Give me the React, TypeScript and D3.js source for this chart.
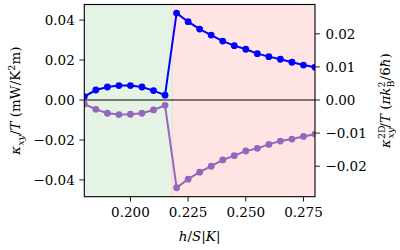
import React, { useEffect, useRef } from 'react';
import * as d3 from 'd3';

// field values h/S|K|
const fieldLow = [0.18, 0.185, 0.19, 0.195, 0.2, 0.205, 0.21, 0.215];
const fieldHigh = [0.22, 0.225, 0.23, 0.235, 0.24, 0.245, 0.25, 0.255, 0.26, 0.265, 0.27, 0.275, 0.28];

// kappa_xy / T in mW/K^2 m (left axis)
const kappaLow = [0.0017, 0.005, 0.0065, 0.0072, 0.0072, 0.0065, 0.0047, 0.0024];
const kappaHigh = [0.0435, 0.0392, 0.0355, 0.0325, 0.0295, 0.0272, 0.0254, 0.0232, 0.0217, 0.0204, 0.0189, 0.0175, 0.0164];

// kappa_xy^2D / T in pi k_B^2 / 6hbar (right axis)
const kappa2dLow = [-0.0012, -0.0028, -0.004, -0.0044, -0.0043, -0.004, -0.003, -0.0016];
const kappa2dHigh = [-0.0265, -0.0239, -0.0218, -0.02, -0.0181, -0.0168, -0.0154, -0.0146, -0.0134, -0.0124, -0.0118, -0.011, -0.0103];

const xTicks = [0.2, 0.225, 0.25, 0.275];
const yLeftTicks = [-0.04, -0.02, 0, 0.02, 0.04];
const yRightTicks = [-0.02, -0.01, 0, 0.01, 0.02];

// phase boundaries
const phaseEdges = [0.18, 0.2182, 0.28];

const fmt = (v: number, digits: number) => (v < 0 ? '\u2212' : '') + Math.abs(v).toFixed(digits);

export default function App() {
  const svgRef = useRef<SVGSVGElement>(null);

  useEffect(() => {
    const width = 400;
    const height = 250;
    const m = { left: 84.3, right: 85, top: 4.5, bottom: 53.3 };

    const svg = d3.select(svgRef.current);
    svg.selectAll('*').remove();
    svg.attr('width', width).attr('height', height);

    const x = d3.scaleLinear().domain([0.18, 0.28]).range([m.left, width - m.right]);
    const yL = d3.scaleLinear().domain([-0.0484, 0.0478]).range([height - m.bottom, m.top]);
    const yR = d3.scaleLinear().domain([-0.0292, 0.02885]).range([height - m.bottom, m.top]);

    const top = m.top;
    const bottom = height - m.bottom;

    // shaded phases
    svg.append('rect')
      .attr('x', x(phaseEdges[0])).attr('y', top)
      .attr('width', x(phaseEdges[1]) - x(phaseEdges[0])).attr('height', bottom - top)
      .attr('fill', '#2ca02c').attr('fill-opacity', 0.13);
    svg.append('rect')
      .attr('x', x(phaseEdges[1]) - 0.8).attr('y', top)
      .attr('width', x(phaseEdges[2]) - x(phaseEdges[1]) + 0.8).attr('height', bottom - top)
      .attr('fill', '#ff2020').attr('fill-opacity', 0.12);

    // zero line
    svg.append('line')
      .attr('x1', x(0.18)).attr('x2', x(0.28))
      .attr('y1', yL(0)).attr('y2', yL(0))
      .attr('stroke', 'black').attr('stroke-width', 1.2);

    const fields = [...fieldLow, ...fieldHigh];
    const blue = [...kappaLow, ...kappaHigh];
    const purple = [...kappa2dLow, ...kappa2dHigh];

    svg.append('clipPath').attr('id', 'plotclip')
      .append('rect').attr('x', m.left).attr('y', top)
      .attr('width', x(0.28) - m.left).attr('height', bottom - top);

    const g = svg.append('g').attr('clip-path', 'url(#plotclip)');

    const series = [
      { vals: purple, y: yR, color: '#9467bd' },
      { vals: blue, y: yL, color: '#0000ff' },
    ];
    series.forEach(s => {
      const line = d3.line<number>()
        .x((_, i) => x(fields[i]))
        .y(d => s.y(d));
      g.append('path')
        .attr('d', line(s.vals))
        .attr('fill', 'none')
        .attr('stroke', s.color)
        .attr('stroke-width', 2);
      g.selectAll(null)
        .data(s.vals)
        .join('circle')
        .attr('cx', (_, i) => x(fields[i]))
        .attr('cy', d => s.y(d))
        .attr('r', 3.4)
        .attr('fill', s.color);
    });

    // frame
    svg.append('rect')
      .attr('x', m.left).attr('y', top)
      .attr('width', x(0.28) - m.left).attr('height', bottom - top)
      .attr('fill', 'none').attr('stroke', 'black').attr('stroke-width', 1.1);

    const tickLen = 4.9;
    const fs = 13.5;

    // all text goes in this group so the serif font is inherited
    const txt = svg.append('g').style('font-family', '"DejaVu Serif", "Liberation Serif", serif').style('font-size', `${fs}px`);

    // bottom ticks
    xTicks.forEach(t => {
      svg.append('line').attr('x1', x(t)).attr('x2', x(t))
        .attr('y1', bottom).attr('y2', bottom + tickLen).attr('stroke', 'black').attr('stroke-width', 0.9);
      txt.append('text').attr('x', x(t)).attr('y', 216.5)
        .attr('text-anchor', 'middle')
        .text(t.toFixed(3));
    });

    yLeftTicks.forEach(t => {
      svg.append('line').attr('x1', m.left - tickLen).attr('x2', m.left)
        .attr('y1', yL(t)).attr('y2', yL(t)).attr('stroke', 'black').attr('stroke-width', 0.9);
      txt.append('text').attr('x', m.left - tickLen - 4.6).attr('y', yL(t))
        .attr('dy', '0.36em')
        .attr('text-anchor', 'end')
        .text(fmt(t, 2));
    });

    const rx = x(0.28);
    yRightTicks.forEach(t => {
      svg.append('line').attr('x1', rx).attr('x2', rx + tickLen)
        .attr('y1', yR(t)).attr('y2', yR(t)).attr('stroke', 'black').attr('stroke-width', 0.9);
      txt.append('text').attr('x', rx + tickLen + 5.5).attr('y', yR(t))
        .attr('dy', '0.36em')
        .attr('text-anchor', 'start')
        .text(fmt(t, 2));
    });

    // x label
    const xl = txt.append('text').attr('x', (m.left + rx) / 2).attr('y', 241)
      .attr('text-anchor', 'middle');
    xl.append('tspan').style('font-style', 'italic').text('h');
    xl.append('tspan').text('/');
    xl.append('tspan').style('font-style', 'italic').text('S');
    xl.append('tspan').text('|');
    xl.append('tspan').style('font-style', 'italic').text('K');
    xl.append('tspan').text('|');

    const midY = (top + bottom) / 2;

    // left label
    const ll = txt.append('text')
      .attr('transform', `translate(20,${midY}) rotate(-90)`)
      .attr('text-anchor', 'middle');
    ll.append('tspan').style('font-style', 'italic').text('κ');
    ll.append('tspan').style('font-style', 'italic').style('font-size', '9.5px').attr('dy', 3.5).text('xy');
    ll.append('tspan').attr('dy', -3.5).text('/');
    ll.append('tspan').style('font-style', 'italic').text('T');
    ll.append('tspan').text(' (mW/K');
    ll.append('tspan').style('font-size', '9.5px').attr('dy', -5.5).text('2');
    ll.append('tspan').attr('dy', 5.5).text('m)');

    // right label
    const rl = txt.append('text')
      .attr('transform', `translate(390,${midY}) rotate(-90)`)
      .attr('text-anchor', 'middle');
    rl.append('tspan').style('font-style', 'italic').text('κ');
    rl.append('tspan').style('font-size', '9.5px').attr('dy', -5.5).text('2D');
    rl.append('tspan').style('font-style', 'italic').style('font-size', '9.5px').attr('dx', -13).attr('dy', 9).text('xy');
    rl.append('tspan').attr('dy', -3.5).text('/');
    rl.append('tspan').style('font-style', 'italic').text('T');
    rl.append('tspan').text(' (');
    rl.append('tspan').style('font-style', 'italic').text('πk');
    rl.append('tspan').style('font-size', '9.5px').attr('dy', -5.5).text('2');
    rl.append('tspan').style('font-size', '9.5px').attr('dx', -6).attr('dy', 9).text('B');
    rl.append('tspan').attr('dy', -3.5).text('/6');
    rl.append('tspan').style('font-style', 'italic').text('ħ');
    rl.append('tspan').text(')');
  }, []);

  return (
    <svg ref={svgRef} style={{ position: 'absolute', left: 0, top: 0 }} />
  );
}
